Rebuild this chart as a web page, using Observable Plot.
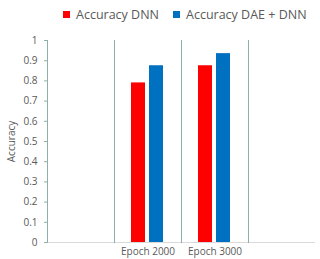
<!DOCTYPE html>
<html>
<head>
<meta charset="utf-8">
<script src="https://cdn.jsdelivr.net/npm/d3@7"></script>
<script src="https://cdn.jsdelivr.net/npm/@observablehq/plot@0.6"></script>
<style>
  body { margin: 0; background: #fff; font-family: "Open Sans", sans-serif; }
  #legend { height: 28px; display: flex; align-items: center; padding-left: 63px; font-size: 12.5px; color: #595959; box-sizing: border-box; white-space: nowrap; width: 320px; }
  .item { display: flex; align-items: center; margin-right: 14px; flex: none; }
  .sw { width: 7px; height: 7px; margin-right: 6px; display: inline-block; }
  #chart svg text { fill: #595959; }
</style>
</head>
<body>
<div id="legend"></div>
<div id="chart"></div>
<script>
const categories = ["Epoch 2000", "Epoch 3000"];
const seriesNames = ["Accuracy DNN", "Accuracy DAE + DNN"];
const accuracyDNN = [0.79, 0.875];
const accuracyDAEDNN = [0.875, 0.935];
const yTicks = [0, 0.1, 0.2, 0.3, 0.4, 0.5, 0.6, 0.7, 0.8, 0.9, 1];
const colors = ["#ff0000", "#0070c0"];

// empty slots on both sides of the category axis, as in the original
const fxDomain = ["_pad1", ...categories, "_pad2"];

const rows = [];
categories.forEach((c, i) => {
  rows.push({category: c, series: seriesNames[0], value: accuracyDNN[i]});
  rows.push({category: c, series: seriesNames[1], value: accuracyDAEDNN[i]});
});

const legend = document.getElementById("legend");
seriesNames.forEach((s, i) => {
  const it = document.createElement("div");
  it.className = "item";
  it.innerHTML = `<span class="sw" style="background:${colors[i]}"></span><span>${s}</span>`;
  legend.appendChild(it);
});

const chart = Plot.plot({
  width: 320,
  height: 240,
  marginTop: 12,
  marginLeft: 47,
  marginRight: 5,
  marginBottom: 26,
  style: {fontFamily: "'Open Sans', sans-serif", fontSize: "10px", color: "#8fb0a8", background: "#fff"},
  fx: {domain: fxDomain, padding: 0, axis: "bottom", tickSize: 0, tickPadding: 5,
       tickFormat: d => categories.includes(d) ? d : "", label: null},
  x: {domain: seriesNames, paddingInner: 0.2, paddingOuter: 0.9, axis: null},
  y: {domain: [0, 1], ticks: yTicks, tickFormat: d => String(d), tickSize: 3, tickPadding: 7,
      label: "Accuracy", labelAnchor: "center", labelArrow: "none", labelOffset: 40},
  color: {domain: seriesNames, range: colors},
  marks: [
    Plot.ruleY(fxDomain, {fx: d => d, y: d => 0, stroke: "#d9d9d9"}),
    Plot.frame({anchor: "left", stroke: "#8fb0a8"}),
    Plot.barY(rows, {fx: "category", x: "series", y: "value", fill: "series"})
  ]
});
document.getElementById("chart").appendChild(chart);

// keep the y-axis line only in the leftmost facet
const frames = Array.from(chart.querySelectorAll('[aria-label="frame"]'));
if (frames.length > 1) {
  const lefts = frames.map(f => f.getBoundingClientRect().left);
  const minLeft = Math.min(...lefts);
  frames.forEach((f, i) => { if (lefts[i] > minLeft + 1) f.remove(); });
}
</script>
</body>
</html>
